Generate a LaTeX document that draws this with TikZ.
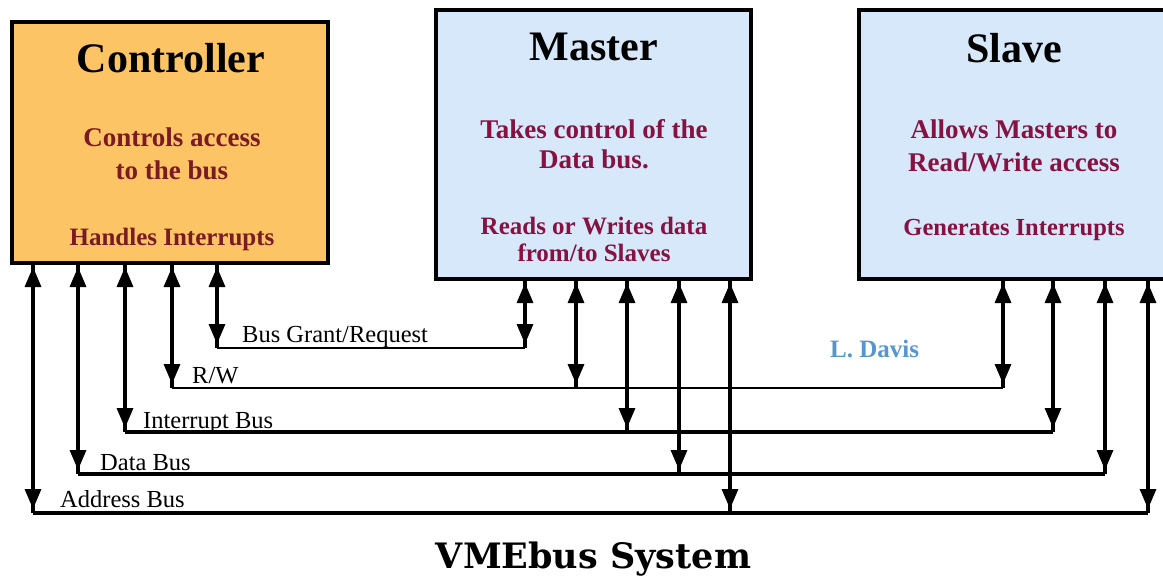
\documentclass[tikz,border=0pt]{standalone}
\usepackage{fontspec}
\setmainfont{Liberation Serif}
\newfontfamily\capfont{DejaVu Serif}
\usetikzlibrary{arrows.meta}

\definecolor{ctrlfill}{RGB}{252,196,100}
\definecolor{unitfill}{RGB}{214,232,250}
\definecolor{ctrltext}{RGB}{122,26,34}
\definecolor{unittext}{RGB}{134,18,66}
\definecolor{signblue}{RGB}{86,150,206}

\begin{document}
\begin{tikzpicture}[x=1pt,y=-1pt,
  unit/.style={draw=black, line width=4pt, inner sep=0pt, outer sep=0pt},
  title/.style={anchor=base, font=\fontsize{42}{42}\selectfont\bfseries, inner sep=0pt},
  desc/.style={anchor=base, font=\fontsize{27}{27}\selectfont\bfseries, inner sep=0pt},
  descsmall/.style={anchor=base, font=\fontsize{25}{25}\selectfont\bfseries, inner sep=0pt},
  busname/.style={anchor=base west, font=\fontsize{24.5}{24.5}\selectfont, inner sep=0pt},
  thinbus/.style={line width=1.6pt},
  thickbus/.style={line width=3.4pt},
  shaft/.style={line width=3.2pt},
  tips/.style={{Triangle[length=20pt,width=16pt]}-{Triangle[length=20pt,width=16pt]},
               shorten <=4pt, shorten >=4pt},
]
% canvas
\fill[white] (0,0) rectangle (1163,579);
\useasboundingbox (0,0) rectangle (1163,579);
\clip (0,0) rectangle (1163,579);

% the three bus units
\node[unit, fill=ctrlfill, minimum width=316pt, minimum height=241pt] (ctrl) at (170,142.5) {};
\node[unit, fill=unitfill, minimum width=315pt, minimum height=269pt] (master) at (593.5,144.5) {};
\node[unit, fill=unitfill, minimum width=315pt, minimum height=269pt] (slave) at (1016.5,144.5) {};

% unit titles and descriptions
\node[title] (ctrlname) at (171,72) {Controller};
\node[desc, text=ctrltext] (ctrlA) at (172,146) {Controls access};
\node[desc, text=ctrltext] (ctrlB) at (172,179) {to the bus};
\node[descsmall, text=ctrltext] (ctrlC) at (172,245) {Handles Interrupts};

\node[title] (mastername) at (594,60) {Master};
\node[desc, text=unittext] (masterA) at (594,138) {Takes control of the};
\node[desc, text=unittext] (masterB) at (594,168) {Data bus.};
\node[descsmall, text=unittext] (masterC) at (594,234) {Reads or Writes data};
\node[descsmall, text=unittext] (masterD) at (594,261) {from/to Slaves};

\node[title] (slavename) at (1014,62) {Slave};
\node[desc, text=unittext] (slaveA) at (1014,138) {Allows Masters to};
\node[desc, text=unittext] (slaveB) at (1014,171) {Read/Write access};
\node[descsmall, text=unittext, font=\fontsize{24.5}{24.5}\selectfont\bfseries] (slaveC) at (1014,235) {Generates Interrupts};

% bus rails: points where the units tap each line
\coordinate (bgL) at (217,348);  \coordinate (bgR) at (525,348);
\coordinate (rwL) at (172,388);  \coordinate (rwM) at (576,388);  \coordinate (rwR) at (1003,388);
\coordinate (intL) at (125,432); \coordinate (intM) at (627,432); \coordinate (intR) at (1053,432);
\coordinate (datL) at (78,474);  \coordinate (datM) at (679,474); \coordinate (datR) at (1105,474);
\coordinate (adrL) at (33,513);  \coordinate (adrM) at (730,513); \coordinate (adrR) at (1148,513);

\draw[thinbus] (bgL) -- (bgR);
\draw[thinbus] (rwL) -- (rwR);
\draw[thickbus] (intL) -- (intR);
\draw[thickbus] (datL) -- (datR);
\draw[thickbus] (adrL) -- (adrR);

% bidirectional taps from each unit down to its bus lines
\foreach \u/\p in {ctrl/bgL, ctrl/rwL, ctrl/intL, ctrl/datL, ctrl/adrL,
                   master/bgR, master/rwM, master/intM, master/datM, master/adrM,
                   slave/rwR, slave/intR, slave/datR, slave/adrR} {
  \draw[shaft] (\u.south -| \p) -- (\p);
  \draw[shaft, tips] (\u.south -| \p) -- (\p);
}

% bus names
\node[busname] (bglabel) at (242,342) {Bus Grant/Request};
\node[busname] (rwlabel) at (192,383) {R/W};
\node[busname] (intlabel) at (143,428) {Interrupt Bus};
\node[busname] (datlabel) at (100,470) {Data Bus};
\node[busname] (adrlabel) at (60,507) {Address Bus};

% signature and caption
\node[anchor=base west, inner sep=0pt, text=signblue, font=\fontsize{25}{25}\selectfont\bfseries] (sign) at (830,357) {L. Davis};
\node[anchor=base, inner sep=0pt, font=\capfont\bfseries\fontsize{35}{35}\selectfont] (caption) at (593.5,568) {VMEbus System};
\end{tikzpicture}
\end{document}
